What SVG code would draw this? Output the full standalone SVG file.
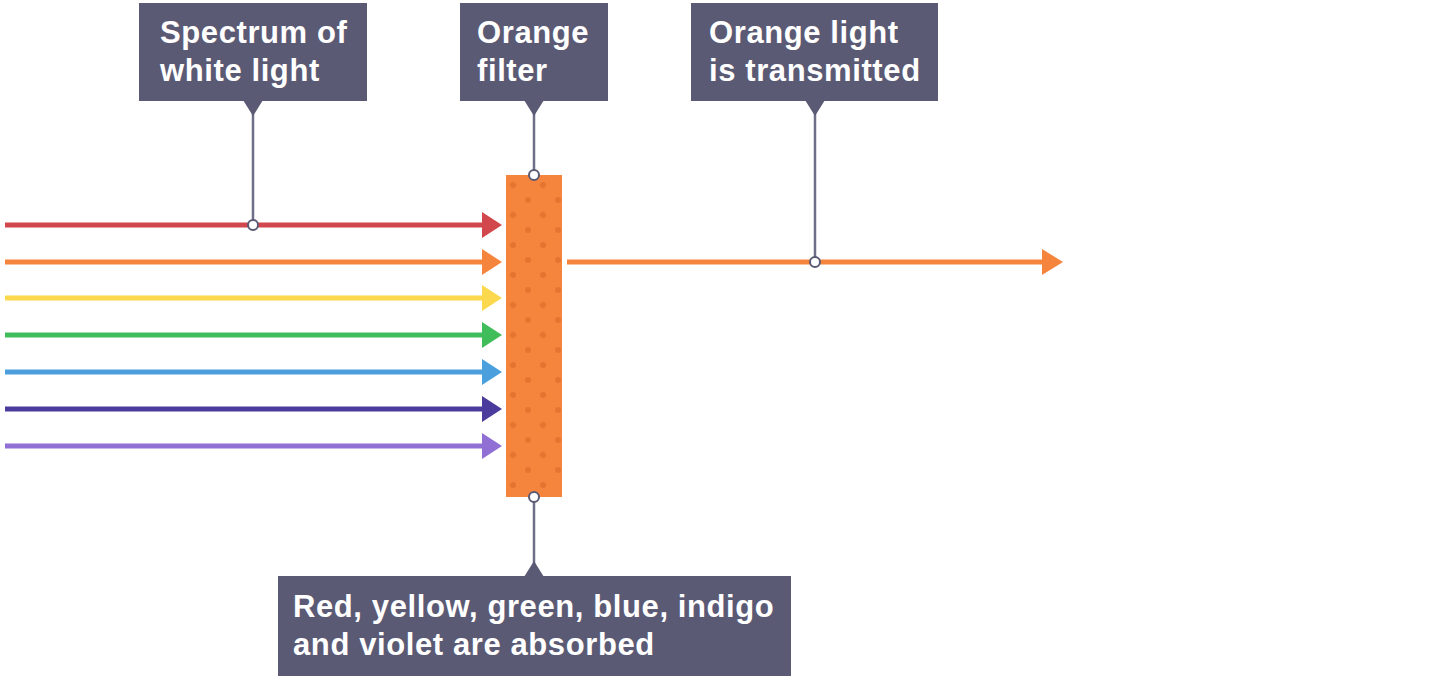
<svg xmlns="http://www.w3.org/2000/svg" width="1440" height="679" viewBox="0 0 1440 679">
<style>
.box{fill:#5b5a75}
.t{font-family:"Liberation Sans",Arial,sans-serif;font-weight:bold;font-size:31px;letter-spacing:0.6px;fill:#fff}
.ld{stroke:#6f6e88;stroke-width:2.5;fill:none}
.dot{fill:#fff;stroke:#5b5a75;stroke-width:2}
.ar{stroke-width:5;fill:none}
</style>
<defs>
<pattern id="dots" width="30" height="30" patternUnits="userSpaceOnUse" x="506" y="175">
<circle cx="7" cy="10" r="3" fill="#d96a28" opacity="0.6"/>
<circle cx="22" cy="25" r="3" fill="#d96a28" opacity="0.6"/>
</pattern>
</defs>
<rect width="1440" height="679" fill="#fff"/>
<g id="connectors">
<g class="ar">
<line x1="5" y1="225" x2="486" y2="225" stroke="#d2474b"/><path d="M482 212 L502 225 L482 238 Z" fill="#d2474b"/>
<line x1="5" y1="262" x2="486" y2="262" stroke="#f5843d"/><path d="M482 249 L502 262 L482 275 Z" fill="#f5843d"/>
<line x1="5" y1="298" x2="486" y2="298" stroke="#fcd84e"/><path d="M482 285 L502 298 L482 311 Z" fill="#fcd84e"/>
<line x1="5" y1="335" x2="486" y2="335" stroke="#3ebd5a"/><path d="M482 322 L502 335 L482 348 Z" fill="#3ebd5a"/>
<line x1="5" y1="372" x2="486" y2="372" stroke="#4a9fdc"/><path d="M482 359 L502 372 L482 385 Z" fill="#4a9fdc"/>
<line x1="5" y1="409" x2="486" y2="409" stroke="#4b3b9c"/><path d="M482 396 L502 409 L482 422 Z" fill="#4b3b9c"/>
<line x1="5" y1="446" x2="486" y2="446" stroke="#9070d4"/><path d="M482 433 L502 446 L482 459 Z" fill="#9070d4"/>
<line x1="567" y1="262" x2="1046" y2="262" stroke="#f5843d"/><path d="M1042 249 L1063 262 L1042 275 Z" fill="#f5843d"/>
</g>
<line class="ld" x1="253" y1="110" x2="253" y2="225"/>
<line class="ld" x1="534" y1="110" x2="534" y2="175"/>
<line class="ld" x1="815" y1="110" x2="815" y2="262"/>
<line class="ld" x1="534" y1="497" x2="534" y2="566"/>
</g>
<g id="filter">
<rect x="506" y="175" width="56" height="322" fill="#f5843d"/>
<rect x="506" y="175" width="56" height="322" fill="url(#dots)"/>
</g>
<g id="markers">
<circle class="dot" cx="253" cy="225" r="5"/>
<circle class="dot" cx="534" cy="175" r="5"/>
<circle class="dot" cx="815" cy="262" r="5"/>
<circle class="dot" cx="534" cy="497" r="5"/>
</g>
<g id="label-spectrum">
<rect class="box" x="139" y="3" width="228" height="98"/><path class="box" d="M243 100 L253 116 L263 100 Z"/>
<text class="t" x="160" y="43">Spectrum of</text><text class="t" x="160" y="81">white light</text>
</g>
<g id="label-filter">
<rect class="box" x="460" y="3" width="148" height="98"/><path class="box" d="M524 100 L534 116 L544 100 Z"/>
<text class="t" x="477" y="43">Orange</text><text class="t" x="477" y="81">filter</text>
</g>
<g id="label-transmitted">
<rect class="box" x="691" y="3" width="247" height="98"/><path class="box" d="M805 100 L815 116 L825 100 Z"/>
<text class="t" x="709" y="43">Orange light</text><text class="t" x="709" y="81">is transmitted</text>
</g>
<g id="label-absorbed">
<rect class="box" x="278" y="576" width="513" height="100"/><path class="box" d="M524 577 L534 561 L544 577 Z"/>
<text class="t" x="293" y="617">Red, yellow, green, blue, indigo</text><text class="t" x="293" y="655">and violet are absorbed</text>
</g>
</svg>
